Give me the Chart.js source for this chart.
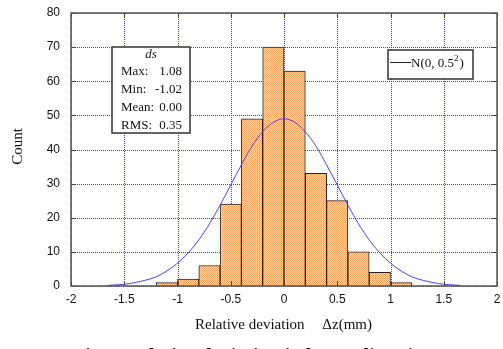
<!DOCTYPE html>
<html>
<head>
<meta charset="utf-8">
<script src="https://cdn.jsdelivr.net/npm/chart.js@4/dist/chart.umd.min.js"></script>
<style>
  html, body { margin: 0; padding: 0; background: #fff; }
  #wrap { width: 503px; height: 349px; position: relative; }
</style>
</head>
<body>
<div id="wrap"><canvas id="c" width="503" height="349"></canvas></div>
<script>
// histogram bins (centre of each 0.2 wide bin) and counts
const binCenters = [-1.1, -0.9, -0.7, -0.5, -0.3, -0.1, 0.1, 0.3, 0.5, 0.7, 0.9, 1.1];
const counts = [1, 2, 6, 24, 49, 70, 63, 33, 25, 10, 4, 1];

// fitted curve N(0, 0.5^2)
const curveX = [-1.65, -1.6, -1.5, -1.4, -1.3, -1.2, -1.1, -1.0, -0.9, -0.8, -0.7, -0.6, -0.5, -0.4, -0.3, -0.2, -0.1, 0,
  0.1, 0.2, 0.3, 0.4, 0.5, 0.6, 0.7, 0.8, 0.9, 1.0, 1.1, 1.2, 1.3, 1.4, 1.5, 1.6, 1.65];
const curveY = [0.2, 0.3, 0.5, 1.0, 1.7, 2.7, 4.4, 6.7, 9.7, 13.5, 18.2, 23.7, 29.6, 35.5, 41.0, 45.2, 48.0, 49.0,
  48.0, 45.2, 41.0, 35.5, 29.6, 23.7, 18.2, 13.5, 9.7, 6.7, 4.4, 2.7, 1.7, 1.0, 0.5, 0.3, 0.2];

const xTicks = [-2, -1.5, -1, -0.5, 0, 0.5, 1, 1.5, 2];
const yTicks = [0, 10, 20, 30, 40, 50, 60, 70, 80];

const statLabels = ["Max:", "Min:", "Mean:", "RMS:"];
const statValues = ["1.08", "-1.02", "0.00", "0.35"];

// checkered orange fill like the original
function makePattern() {
  const p = document.createElement("canvas");
  p.width = 2; p.height = 2;
  const g = p.getContext("2d");
  g.fillStyle = "rgb(255,218,186)";
  g.fillRect(0, 0, 2, 2);
  g.fillStyle = "rgb(248,164,98)";
  g.fillRect(0, 0, 1, 1);
  g.fillRect(1, 1, 1, 1);
  return g.createPattern(p, "repeat");
}

const serif = "'Liberation Serif', 'DejaVu Serif', serif";
const sans = "'Liberation Sans', Arial, sans-serif";

// dotted blue grid, drawn under the bars
const dottedGrid = {
  id: "dottedGrid",
  beforeDatasetsDraw(chart) {
    const ctx = chart.ctx;
    const a = chart.chartArea;
    const xs = chart.scales.x, ys = chart.scales.y;
    ctx.save();
    ctx.strokeStyle = "rgb(60,60,255)";
    ctx.lineWidth = 1;
    ctx.setLineDash([1, 1]);
    ctx.beginPath();
    xTicks.forEach(v => {
      const px = Math.round(xs.getPixelForValue(v)) + 0.5;
      ctx.moveTo(px, a.top); ctx.lineTo(px, a.bottom);
    });
    yTicks.forEach(v => {
      const py = Math.round(ys.getPixelForValue(v)) + 0.5;
      ctx.moveTo(a.left, py); ctx.lineTo(a.right, py);
    });
    ctx.stroke();
    ctx.restore();
  }
};

const extras = {
  id: "extras",
  afterDatasetsDraw(chart) {
    const ctx = chart.ctx;
    const a = chart.chartArea;
    const xs = chart.scales.x, ys = chart.scales.y;
    ctx.save();
    ctx.strokeStyle = "#444";
    ctx.lineWidth = 1;
    ctx.beginPath();
    xTicks.forEach(v => {
      const px = Math.round(xs.getPixelForValue(v)) + 0.5;
      ctx.moveTo(px, a.bottom); ctx.lineTo(px, a.bottom - 5);
      ctx.moveTo(px, a.top); ctx.lineTo(px, a.top + 5);
    });
    yTicks.forEach(v => {
      const py = Math.round(ys.getPixelForValue(v)) + 0.5;
      ctx.moveTo(a.left, py); ctx.lineTo(a.left + 5, py);
      ctx.moveTo(a.right, py); ctx.lineTo(a.right - 5, py);
    });
    ctx.stroke();

    // frame
    ctx.strokeStyle = "#555";
    ctx.lineWidth = 1.5;
    ctx.strokeRect(a.left, a.top, a.right - a.left, a.bottom - a.top);

    // stats box
    const bx = a.left + 41, by = a.top + 34, bw = 78, bh = 86;
    ctx.fillStyle = "#fff";
    ctx.fillRect(bx, by, bw, bh);
    ctx.strokeStyle = "#333";
    ctx.lineWidth = 1.5;
    ctx.strokeRect(bx, by, bw, bh);
    ctx.fillStyle = "#111";
    ctx.textBaseline = "middle";
    ctx.font = "italic 13px " + serif;
    ctx.textAlign = "center";
    ctx.fillText("ds", bx + bw / 2, by + 8);
    ctx.font = "13px " + serif;
    statLabels.forEach((s, i) => {
      const ty = by + 25 + i * 17.7;
      ctx.textAlign = "left";
      ctx.fillText(s, bx + 9, ty);
      ctx.textAlign = "right";
      ctx.fillText(statValues[i], bx + bw - 8, ty);
    });

    // legend box
    const lx = a.left + 317, ly = a.top + 37, lw = 85, lh = 29;
    ctx.fillStyle = "#fff";
    ctx.fillRect(lx, ly, lw, lh);
    ctx.strokeStyle = "#333";
    ctx.lineWidth = 1.5;
    ctx.strokeRect(lx, ly, lw, lh);
    ctx.strokeStyle = "#222";
    ctx.lineWidth = 1;
    ctx.beginPath();
    ctx.moveTo(lx + 2, ly + 12.5); ctx.lineTo(lx + 23, ly + 12.5);
    ctx.stroke();
    ctx.fillStyle = "#111";
    ctx.textAlign = "left";
    ctx.textBaseline = "alphabetic";
    ctx.font = "13px " + serif;
    const t1 = "N(0, 0.5";
    ctx.fillText(t1, lx + 23, ly + 17);
    const w1 = ctx.measureText(t1).width;
    ctx.font = "9px " + serif;
    ctx.fillText("2", lx + 23 + w1, ly + 11);
    const w2 = ctx.measureText("2").width;
    ctx.font = "13px " + serif;
    ctx.fillText(")", lx + 23 + w1 + w2 + 1, ly + 17);

    // axis titles
    ctx.textBaseline = "middle";
    ctx.font = "15px " + serif;
    ctx.textAlign = "left";
    ctx.fillText("Relative deviation", 195, 325);
    ctx.textAlign = "right";
    ctx.fillText("\u0394z(mm)", 372, 325);
    ctx.textAlign = "center";
    ctx.save();
    ctx.translate(18, (a.top + a.bottom) / 2 - 3);
    ctx.rotate(-Math.PI / 2);
    ctx.fillText("Count", 0, 0);
    ctx.restore();

    // caption, cut off by the bottom edge
    ctx.textAlign = "left";
    ctx.textBaseline = "alphabetic";
    ctx.font = "bold 20px " + serif;
    ctx.fillText("Fig.7  Relative deviation in beam direction", 73, 363);
    ctx.restore();
  }
};

new Chart(document.getElementById("c"), {
  type: "bar",
  data: {
    datasets: [
      {
        type: "line",
        label: "N(0, 0.5²)",
        data: curveX.map((x, i) => ({ x: x, y: curveY[i] })),
        borderColor: "rgb(70,70,235)",
        borderWidth: 1,
        pointRadius: 0,
        cubicInterpolationMode: "monotone",
        order: 0
      },
      {
        label: "ds",
        data: binCenters.map((x, i) => ({ x: x, y: counts[i] })),
        backgroundColor: makePattern(),
        borderColor: "#222",
        borderWidth: 1,
        barPercentage: 1,
        categoryPercentage: 1,
        order: 1
      }
    ]
  },
  options: {
    responsive: false,
    animation: false,
    layout: { padding: { top: 13, right: 6, left: 0, bottom: 0 } },
    plugins: { legend: { display: false }, tooltip: { enabled: false } },
    scales: {
      x: {
        type: "linear",
        min: -2, max: 2,
        offset: false,
        afterFit: s => { s.height = 63; s.paddingLeft = 0; s.paddingRight = 0; },
        afterBuildTicks: s => { s.ticks = xTicks.map(v => ({ value: v })); },
        ticks: { color: "#111", font: { family: sans, size: 12 }, padding: 6, callback: v => String(v) },
        grid: { display: false, drawTicks: false, offset: false },
        border: { display: false }
      },
      y: {
        min: 0, max: 80,
        afterFit: s => { s.width = 71; s.paddingTop = 0; s.paddingBottom = 0; },
        afterBuildTicks: s => { s.ticks = yTicks.map(v => ({ value: v })); },
        ticks: { color: "#111", font: { family: sans, size: 12 }, padding: 11 },
        grid: { display: false, drawTicks: false },
        border: { display: false }
      }
    }
  },
  plugins: [dottedGrid, extras]
});
</script>
</body>
</html>
